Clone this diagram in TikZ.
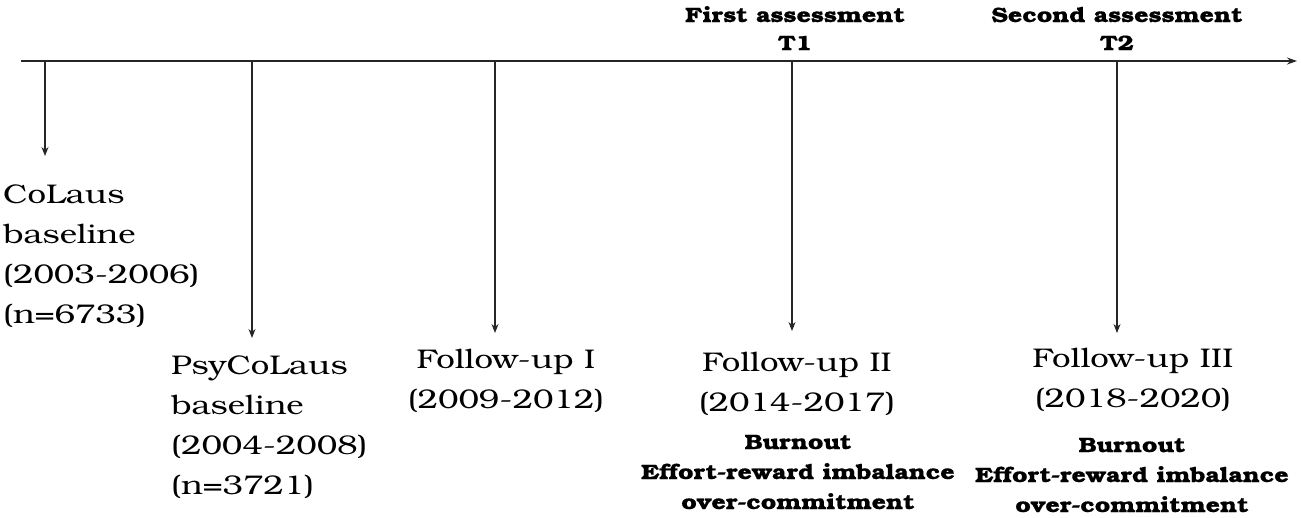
\documentclass[tikz,border=0pt]{standalone}
\usepackage{fontspec}
\setmainfont{TeX Gyre Bonum}[FakeStretch=1.22]
\newfontfamily\hdfont{TeX Gyre Bonum}[FakeStretch=1.2, FakeBold=0.6]
\usetikzlibrary{arrows.meta}
\begin{document}
\begin{tikzpicture}[x=1pt,y=-1pt,
  axisline/.style={line width=1.2pt, draw=black!85},
  drop/.style={line width=1.1pt, draw=black!85, -{Stealth[length=9pt,width=7pt]}},
  phase/.style={font=\fontsize{27}{40}\selectfont, inner sep=0pt, anchor=base},
  measures/.style={font=\hdfont\fontsize{20.8}{30}\selectfont\bfseries, inner sep=0pt, anchor=base, align=center},
  header/.style={font=\hdfont\fontsize{20.8}{28}\selectfont\bfseries, inner sep=0pt, anchor=base, align=center}]
\useasboundingbox (0,0) rectangle (1301,517);

% axis
\coordinate (axS) at (21,61);
\coordinate (axE) at (1297,61);
\draw[axisline, -{Stealth[length=10pt,width=7pt]}] (axS) -- (axE);

% tick points on axis
\coordinate (p1) at (45,61);
\coordinate (p2) at (252,61);
\coordinate (p3) at (495,61);
\coordinate (p4) at (792,61);
\coordinate (p5) at (1117,61);

% arrow ends
\coordinate (e1) at (45,156);
\coordinate (e2) at (252,338);
\coordinate (e3) at (495,333);
\coordinate (e4) at (792,331);
\coordinate (e5) at (1117,333);

\draw[drop] (p1) -- (e1);
\draw[drop] (p2) -- (e2);
\draw[drop] (p3) -- (e3);
\draw[drop] (p4) -- (e4);
\draw[drop] (p5) -- (e5);

% headers (anchor = baseline of last line)
\node[header] (h1) at (795,50) {First assessment\\T1};
\node[header] (h2) at (1117,50) {Second assessment\\T2};

% phases
\node[phase, anchor=base west, align=left] (colaus) at (3,323) {CoLaus\\baseline\\(2003-2006)\\(n=6733)};
\node[phase, anchor=base west, align=left] (psy) at (171,494) {PsyCoLaus\\baseline\\(2004-2008)\\(n=3721)};
\node[phase, align=center] (fu1) at (506,408) {Follow-up I\\(2009-2012)};
\node[phase, align=center] (fu2) at (797,411) {Follow-up II\\(2014-2017)};
\node[phase, align=center] (fu3) at (1133,407) {Follow-up III\\(2018-2020)};

% measures
\node[measures] (m2) at (798,509) {Burnout\\Effort-reward imbalance\\over-commitment};
\node[measures] (m3) at (1132,512) {Burnout\\Effort-reward imbalance\\over-commitment};
\end{tikzpicture}
\end{document}
